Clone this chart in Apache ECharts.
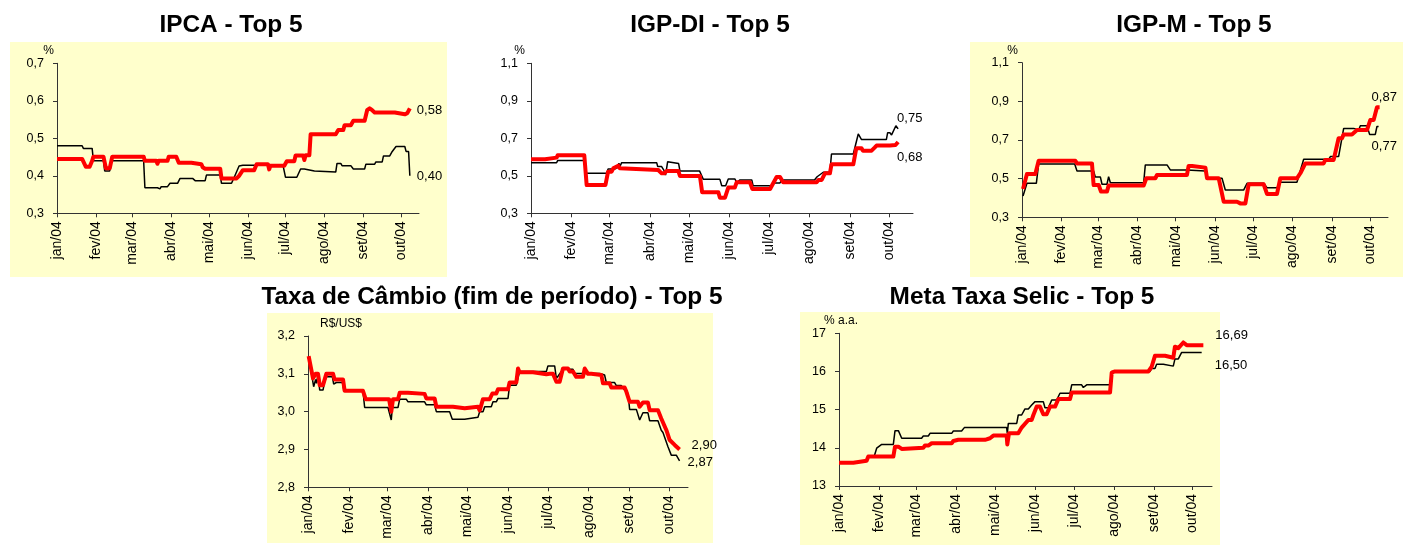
<!DOCTYPE html>
<html>
<head>
<meta charset="utf-8">
<script src="https://cdn.jsdelivr.net/npm/echarts@6/dist/echarts.min.js"></script>
<style>
html,body{margin:0;padding:0;background:#fff;}
#c{width:1403px;height:545px;}
</style>
</head>
<body>
<div id="c"></div>
<script>
// x values are days of 2004 (0 = 1 Jan)
const monthDays = [0, 31, 60, 91, 121, 152, 182, 213, 244, 274];
const monthLabels = ['jan/04','fev/04','mar/04','abr/04','mai/04','jun/04','jul/04','ago/04','set/04','out/04'];

const titles = ['IPCA - Top 5', 'IGP-DI - Top 5', 'IGP-M - Top 5', 'Taxa de Câmbio (fim de período) - Top 5', 'Meta Taxa Selic - Top 5'];
const unitNames = ['%', '%', '%', 'R$/US$', '% a.a.'];

const ipcaTicks = [0.3, 0.4, 0.5, 0.6, 0.7];
const igpdiTicks = [0.3, 0.5, 0.7, 0.9, 1.1];
const igpmTicks = [0.3, 0.5, 0.7, 0.9, 1.1];
const cambioTicks = [2.8, 2.9, 3.0, 3.1, 3.2];
const selicTicks = [13, 14, 15, 16, 17];

// black line: median of all; red line: Top 5
const ipcaMedian = [[0,0.48],[20,0.48],[21,0.473],[28,0.473],[29,0.44],[37,0.44],[38,0.413],[42,0.413],[43,0.44],[69,0.44],[70,0.368],[80,0.368],[81,0.365],[82,0.365],[83,0.371],[88,0.371],[90,0.38],[96,0.38],[98,0.393],[108,0.393],[110,0.387],[118,0.387],[119,0.402],[130,0.402],[131,0.38],[139,0.38],[141,0.395],[145,0.426],[148,0.428],[180,0.428],[182,0.396],[191,0.396],[194,0.418],[197,0.418],[198,0.413],[205,0.413],[206,0.41],[222,0.41],[223,0.433],[226,0.433],[227,0.427],[234,0.427],[236,0.418],[245,0.418],[246,0.431],[253,0.431],[254,0.437],[259,0.437],[260,0.453],[265,0.453],[267,0.465],[270,0.478],[277,0.478],[278,0.465],[280,0.465],[281,0.40]];
const ipcaTop5 = [[0,0.445],[20,0.445],[23,0.424],[26,0.424],[28,0.44],[29,0.451],[37,0.451],[39,0.42],[42,0.42],[44,0.451],[69,0.451],[70,0.44],[79,0.44],[80,0.432],[81,0.44],[88,0.44],[89,0.451],[95,0.451],[97,0.435],[107,0.435],[108,0.431],[115,0.431],[116,0.423],[118,0.419],[130,0.419],[131,0.393],[143,0.393],[145,0.40],[148,0.415],[157,0.415],[159,0.431],[168,0.431],[169,0.417],[170,0.427],[181,0.427],[183,0.439],[189,0.439],[190,0.454],[196,0.454],[197,0.442],[198,0.455],[201,0.455],[202,0.511],[222,0.511],[224,0.522],[228,0.522],[229,0.535],[234,0.535],[236,0.547],[245,0.547],[247,0.575],[249,0.58],[251,0.575],[253,0.569],[269,0.569],[270,0.564],[277,0.564],[279,0.567],[280,0.567],[281,0.58]];

const igpdiMedian = [[0,0.57],[19.6,0.57],[20.4,0.581],[40.8,0.581],[41.8,0.513],[57.9,0.513],[59,0.536],[64,0.536],[66,0.543],[67.3,0.567],[68,0.549],[69.4,0.57],[96.2,0.57],[97,0.549],[100,0.549],[102,0.526],[103,0.504],[104,0.504],[104.6,0.575],[106,0.565],[113,0.565],[114,0.526],[129,0.526],[130,0.531],[131.9,0.481],[144.6,0.481],[146,0.447],[149,0.447],[151,0.483],[156,0.483],[157.5,0.465],[160,0.478],[169,0.478],[170,0.447],[184,0.447],[185.5,0.462],[190.6,0.462],[192,0.478],[217,0.478],[219,0.495],[223.7,0.519],[228.8,0.519],[230,0.616],[246.7,0.616],[250.5,0.723],[251.8,0.723],[253,0.693],[272,0.693],[273,0.73],[274.7,0.73],[276,0.718],[277.5,0.709],[279.3,0.767],[281,0.75]];
const igpdiTop5 = [[0,0.588],[10.7,0.588],[12,0.597],[19.6,0.597],[20.4,0.609],[40.8,0.609],[42.6,0.451],[57,0.451],[59,0.522],[61.7,0.522],[63,0.54],[64.5,0.54],[66.8,0.554],[68,0.54],[69.4,0.531],[97.4,0.531],[100,0.513],[102,0.513],[103.8,0.526],[112.8,0.526],[114,0.499],[129.3,0.499],[131,0.412],[143.4,0.412],[144.6,0.383],[148.5,0.383],[151,0.437],[156,0.437],[157.4,0.465],[167.6,0.465],[169.4,0.43],[183,0.43],[188,0.494],[190.6,0.494],[193,0.465],[218.6,0.465],[220,0.478],[222.5,0.478],[225,0.513],[228.8,0.513],[230,0.561],[246.7,0.561],[249,0.647],[253,0.647],[254,0.634],[260.7,0.634],[263,0.65],[264.5,0.661],[274.7,0.661],[276,0.664],[279,0.664],[281,0.68]];

const igpmMedian = [[0.8,0.41],[3.9,0.476],[11.3,0.476],[13.1,0.576],[41.5,0.576],[43.3,0.54],[56.4,0.54],[57.7,0.509],[61.7,0.509],[63,0.471],[66.9,0.471],[68.2,0.51],[69.6,0.479],[95.8,0.479],[97.1,0.571],[114.2,0.571],[116.8,0.545],[129.9,0.545],[131.2,0.54],[144.4,0.54],[145.7,0.502],[157.5,0.502],[160.1,0.441],[174.5,0.441],[177.2,0.476],[190.3,0.476],[191.6,0.481],[192.9,0.453],[200.8,0.453],[203.4,0.481],[216.5,0.481],[221.8,0.6],[241.5,0.6],[242.8,0.614],[249.3,0.614],[253.3,0.76],[261.2,0.76],[262.5,0.752],[265.1,0.752],[266.4,0.774],[271.7,0.774],[273.7,0.729],[278.2,0.729],[279.5,0.77],[280.8,0.77]];
const igpmTop5 = [[0.8,0.447],[3.9,0.524],[10.5,0.524],[13.1,0.593],[42,0.593],[43.3,0.579],[55.1,0.579],[56.4,0.467],[60.4,0.467],[62.2,0.433],[66.9,0.433],[68.2,0.464],[95.8,0.464],[97.9,0.502],[105,0.502],[106.3,0.519],[129.9,0.519],[131.2,0.566],[133.9,0.566],[135.2,0.557],[144.4,0.557],[145.7,0.502],[154.9,0.502],[156.2,0.493],[158.8,0.381],[169.3,0.381],[171.9,0.372],[175.9,0.372],[178.5,0.471],[190.3,0.471],[192.9,0.421],[200.8,0.421],[203.4,0.502],[216.5,0.502],[219.2,0.528],[223.1,0.579],[237.5,0.579],[238.8,0.597],[245.4,0.597],[249.3,0.709],[252,0.709],[253.3,0.729],[259.8,0.729],[263.8,0.752],[271.7,0.752],[274.3,0.804],[276.9,0.804],[279.5,0.87],[281.6,0.87]];

const cambioMedian = [[0.5,3.145],[4.3,3.066],[5.8,3.085],[6.5,3.075],[7.6,3.097],[8.9,3.057],[11.4,3.057],[12.6,3.079],[13.9,3.092],[18.5,3.092],[19.5,3.073],[21,3.073],[21.5,3.077],[26.1,3.077],[27.3,3.055],[41.7,3.055],[43,3.011],[60.7,3.011],[63.2,2.978],[64,3.011],[68.3,3.011],[69.6,3.033],[74.6,3.033],[75.9,3.026],[88.5,3.026],[89.8,3.018],[96.1,3.018],[97.4,3.0],[107.5,3.0],[109.5,2.98],[118.9,2.98],[120.2,2.985],[129,2.985],[130.3,3.0],[132.8,3.0],[134.1,3.013],[139.1,3.013],[140.4,3.026],[142.9,3.026],[144.2,3.035],[151.8,3.035],[153,3.07],[158.1,3.07],[160.6,3.106],[180.9,3.106],[182.1,3.121],[187.2,3.121],[188.5,3.088],[190,3.095],[193.5,3.112],[201.1,3.112],[202.4,3.101],[221.4,3.101],[222.6,3.097],[225.1,3.097],[226.4,3.077],[232.7,3.077],[234,3.069],[237.8,3.069],[239.1,3.062],[242.9,3.048],[244.1,3.006],[249.2,3.006],[251.7,2.978],[254.2,2.997],[258,2.997],[259.3,2.976],[265.6,2.976],[268.1,2.951],[269.4,2.945],[273.2,2.907],[275.7,2.885],[279.5,2.885],[282,2.87]];
const cambioTop5 = [[0.5,3.147],[3.8,3.088],[5.8,3.1],[7.6,3.1],[8.9,3.07],[11.4,3.07],[13.9,3.1],[19,3.1],[20.2,3.085],[26.6,3.085],[27.8,3.055],[41.7,3.055],[43.8,3.033],[61.5,3.033],[63.2,3.0],[64.5,3.033],[68.3,3.033],[69.6,3.05],[75.9,3.05],[77.2,3.047],[88.5,3.047],[89.8,3.035],[96.1,3.035],[97.4,3.013],[110,3.013],[111.3,3.009],[118.9,3.009],[120.2,3.013],[129,3.013],[130.3,3.003],[132.8,3.033],[137.9,3.033],[139.9,3.048],[142.9,3.048],[144.2,3.059],[151.8,3.059],[153,3.077],[158.1,3.077],[159.4,3.114],[160.6,3.104],[170.8,3.104],[172,3.099],[180.9,3.099],[183.4,3.1],[185.9,3.1],[188.5,3.079],[191,3.079],[193.5,3.114],[197.3,3.114],[198.6,3.106],[201.1,3.106],[203.6,3.092],[208.7,3.092],[210,3.114],[212.5,3.1],[215,3.1],[216.3,3.097],[222.6,3.097],[223.9,3.075],[228.9,3.075],[230.2,3.064],[240.3,3.064],[241.6,3.053],[244.1,3.026],[250.4,3.026],[251.7,3.013],[254.2,3.024],[258,3.024],[259.3,3.004],[265.6,3.004],[268.1,2.982],[272,2.951],[274.5,2.925],[275.7,2.925],[278.3,2.912],[279.5,2.912],[282,2.90]];

const selicMedian = [[0,13.61],[12.4,13.61],[12.9,13.65],[21.4,13.65],[22.7,13.79],[27.4,13.79],[29.2,13.99],[30.5,13.99],[33.1,14.09],[42.1,14.09],[43.4,14.45],[46,14.45],[48.6,14.25],[64,14.25],[65.3,14.31],[69.2,14.31],[70.5,14.38],[87.3,14.38],[88.6,14.44],[95,14.44],[97.1,14.53],[129.9,14.53],[130.4,14.38],[131.2,14.64],[137.7,14.64],[138.9,14.86],[141.5,14.86],[144.1,15.02],[146.7,15.02],[149.3,15.12],[151.9,15.21],[158.3,15.21],[159.6,15.05],[162.2,15.05],[164.8,15.25],[168.6,15.25],[171.2,15.43],[179,15.43],[180.3,15.65],[188,15.65],[189.3,15.58],[191.9,15.65],[210,15.65],[211.3,16.0],[241,16.0],[242.3,16.08],[244.8,16.08],[246.1,16.19],[251.3,16.19],[252.6,16.14],[259,16.14],[260.3,16.33],[262.9,16.33],[265.5,16.5],[281,16.5]];
const selicTop5 = [[0,13.61],[11.1,13.61],[12.4,13.66],[21.4,13.66],[22.7,13.77],[42.1,13.77],[43.4,14.03],[46,14.03],[48.6,13.97],[49.8,14.0],[65.3,14.0],[66.6,14.06],[69.2,14.06],[71.8,14.12],[87.3,14.12],[88.6,14.18],[89.9,14.18],[92.5,14.21],[113.1,14.21],[114.4,14.25],[117,14.25],[119.6,14.32],[129.9,14.32],[130.4,14.09],[131.7,14.38],[138.9,14.38],[141.5,14.53],[146.7,14.73],[149.3,14.73],[150.6,14.86],[153.2,15.08],[155.7,15.08],[158.3,14.88],[160.9,14.88],[163.5,15.08],[167.4,15.08],[170,15.28],[179,15.28],[180.3,15.45],[189.3,15.45],[190.6,15.4],[191.9,15.45],[210,15.45],[211.3,15.97],[213.8,16.0],[239.7,16.0],[242.3,16.13],[243.5,16.13],[244.8,16.41],[252.6,16.41],[253.9,16.36],[259,16.36],[260.3,16.65],[261.6,16.65],[262.9,16.61],[266.8,16.76],[269.4,16.69],[282.3,16.69]];

// ---------- layout & styling ----------
const FONT = '"Liberation Sans", Arial, sans-serif';
const grids = [
  {left: 57, top: 63.3, width: 362, height: 150, xMax: 288.3},
  {left: 531, top: 63.3, width: 382, height: 150, xMax: 292.4},
  {left: 1022, top: 62.7, width: 366, height: 154.6, xMax: 288.2},
  {left: 308, top: 336, width: 380, height: 151.3, xMax: 288.4},
  {left: 839, top: 333.3, width: 373, height: 152.7, xMax: 289}
];
const tickSets = [ipcaTicks, igpdiTicks, igpmTicks, cambioTicks, selicTicks];
const decimals = [1, 1, 1, 1, 0];
const nameStyles = [
  {align: 'right', padding: [0, 3, 0, 0], gap: 7},
  {align: 'right', padding: [0, 6, 0, 0], gap: 7},
  {align: 'right', padding: [0, 4, 0, 0], gap: 5},
  {align: 'left', padding: [0, 0, 0, 12], gap: 6},
  {align: 'center', padding: [0, 0, 0, 4], gap: 5}
];
const panels = [
  {x: 10, y: 42, w: 437, h: 235},
  null,
  {x: 970, y: 42, w: 433, h: 235},
  {x: 267, y: 313, w: 446, h: 230},
  {x: 800, y: 312, w: 420, h: 233}
];
const titlePos = [[231, 25], [710, 25], [1194, 25], [492, 297], [1022, 297]];

const seriesSets = [
  [ipcaMedian, ipcaTop5, [7, 1], [7, 2]],
  [igpdiMedian, igpdiTop5, [-1, -11], [-1, 15]],
  [igpmMedian, igpmTop5, [-7, 20], [-8, -10]],
  [cambioMedian, cambioTop5, [8, 2], [12, -4]],
  [selicMedian, selicTop5, [13, 13], [12, -10]]
];

const fmt = (v, d) => v.toFixed(d).replace('.', ',');

const option = {
  animation: false,
  grid: grids.map(g => ({left: g.left, top: g.top, width: g.width, height: g.height, containLabel: false})),
  xAxis: grids.map((g, i) => ({
    type: 'value', gridIndex: i, min: 0, max: g.xMax,
    axisLine: {show: true, onZero: false, lineStyle: {color: '#333', width: 1}},
    axisTick: {show: true, customValues: monthDays, length: 4, lineStyle: {color: '#333'}},
    axisLabel: {
      show: true, customValues: monthDays, rotate: 90, margin: 8,
      fontSize: 14, fontFamily: FONT, color: '#000',
      formatter: v => monthLabels[monthDays.indexOf(Math.round(v))] || ''
    },
    splitLine: {show: false}
  })),
  yAxis: grids.map((g, i) => {
    const t = tickSets[i];
    return {
      type: 'value', gridIndex: i, min: t[0], max: t[t.length - 1],
      name: unitNames[i], nameLocation: 'end', nameGap: nameStyles[i].gap,
      nameTextStyle: {fontSize: 12, fontFamily: FONT, color: '#000', align: nameStyles[i].align, padding: nameStyles[i].padding},
      axisLine: {show: true, onZero: false, lineStyle: {color: '#333', width: 1}},
      axisTick: {show: true, customValues: t, length: 4, lineStyle: {color: '#333'}},
      axisLabel: {show: true, customValues: t, margin: 13, fontSize: 12.5, fontFamily: FONT, color: '#000',
        formatter: v => fmt(v, decimals[i])},
      splitLine: {show: false}
    };
  }),
  series: [],
  graphic: []
};

seriesSets.forEach((s, i) => {
  const d = 2;
  option.series.push({
    type: 'line', xAxisIndex: i, yAxisIndex: i, data: s[0], symbol: 'none', showSymbol: false,
    lineStyle: {color: '#000', width: 1.5}, z: 2,
    endLabel: {show: true, distance: 0, offset: s[2], fontSize: 13, fontFamily: FONT, color: '#000', align: 'left',
      formatter: p => fmt(p.value[1], d)}
  });
  option.series.push({
    type: 'line', xAxisIndex: i, yAxisIndex: i, data: s[1], symbol: 'none', showSymbol: false,
    lineStyle: {color: '#ff0000', width: 4, join: 'round'}, z: 3,
    endLabel: {show: true, distance: 0, offset: s[3], fontSize: 13, fontFamily: FONT, color: '#000', align: 'left',
      formatter: p => fmt(p.value[1], d)}
  });
});

panels.forEach(p => {
  if (!p) return;
  option.graphic.push({type: 'rect', z: -10, silent: true, shape: {x: p.x, y: p.y, width: p.w, height: p.h}, style: {fill: '#ffffcc'}});
});
titles.forEach((t, i) => {
  option.graphic.push({type: 'text', z: 10, silent: true, x: titlePos[i][0], y: titlePos[i][1],
    style: {text: t, font: 'bold 24.4px ' + FONT, fill: '#000', textAlign: 'center', textVerticalAlign: 'middle'}});
});

const chart = echarts.init(document.getElementById('c'), null, {renderer: 'canvas'});
chart.setOption(option);
</script>
</body>
</html>
